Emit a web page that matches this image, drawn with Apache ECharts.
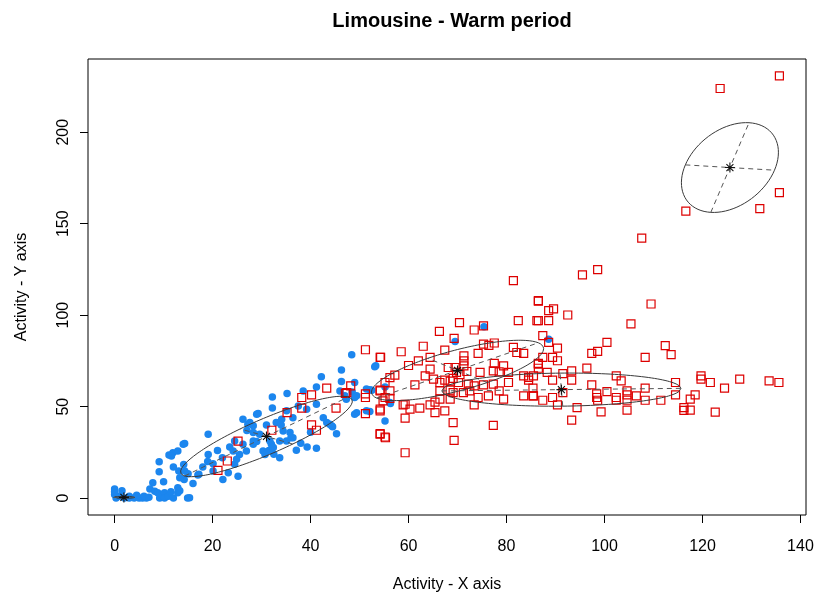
<!DOCTYPE html>
<html><head><meta charset="utf-8">
<script src="https://cdn.jsdelivr.net/npm/echarts@6/dist/echarts.min.js"></script>
<style>html,body{margin:0;padding:0;background:#fff}#c{width:819px;height:598px}</style>
</head><body><div id="c"></div>
<script>
const chartTitle = 'Limousine - Warm period';
const xName = 'Activity - X axis';
const yName = 'Activity - Y axis';
const xTicks = [0, 20, 40, 60, 80, 100, 120, 140];
const yTicks = [0, 50, 100, 150, 200];

const bluePoints = [
[0,5],[0,2],[0.3,0],[1,1],[0,3.5],[1.5,4],[2,0],[3,0],[4,0],[5,0],[5.7,0],[6.5,0],[7.2,5],[7.8,8.4],[8.2,3.8],[8.8,3],[9.2,0],[9.5,2],[10.2,2.9],[10.2,0],[11,1],[12,0],[12.9,5.6],[12.9,2.9],[13.3,4],[14.9,0],[15.3,0.2],[6,1],[7,0.5],[3,1],[4.5,1.5],[11.5,3.5],
[9.1,19.9],[9.1,14.4],[11.1,23.5],[11.9,24.8],[12.9,25.7],[14,29.4],[13.1,14.8],[14.1,18.4],[14.2,10.2],[15,13.3],[17.2,13],[19.1,34.9],[19.1,23.9],[20.1,18.8],[20.1,14.8],[22.1,10.2],[23.2,13.9],[25.2,12],[24.5,18.5],[25.5,23.9],[26.9,25.8],[26.2,29.4],[28.3,29.4],[28.3,35.8],[27.2,40.4],[26.2,43.1],[29,45.9],[24.2,25.8],[24.9,21.2],[28.3,31.2],[30.3,25.8],[32,29.4],[33.7,22.1],[32.5,24],[31.5,26],[35.1,31.2],[36,33],[34.4,36.7],[37.1,26.1],[39.3,27.9],[41.2,27.2],[42.6,43.9],[43.9,40.4],[45.3,35.2],[49.4,46.7],[51.4,47.7],[55.2,42.2],[36.4,43.9],[35.1,47.7],[29.3,46.2],[28.3,39.5],[32.2,49.2],[32.2,55.3],[35.2,57.2],[38.5,58.6],[41.2,60.8],[42.2,66.3],[46.3,70],[46.3,63.7],[48.4,78.4],[53.3,72.3],[49.4,55.9],[51.4,59.6],[52.5,59],[37.5,50.4],[39.2,48.6],[41.2,51.3],[34.1,43.1],[33,41.3],[27.6,41.3],[31,40],[34,40],[43.3,41.3],[44.5,39],[35.8,35.8],[36.4,33],[33.7,31.2],[31.7,31.2],[29.6,34.9],[29,31],[32.4,27.6],[30.7,23.9],[24.5,31.2],[23.5,28],[14.3,29.8],[11.6,23],[14.3,14.8],[13.3,11.1],[17,12.6],[19,20],[49,63.2],[46,58.6],[47,56],[48.5,58],[52.1,59.2],[55.2,60.8],[56.3,51.7],[52.1,47.3],[53.1,71.8],[69.5,85.6],[75.4,93.7],[88.6,86.9],[56.2,52.2],[49,55],[47.3,54.1],[49,45.9],[44.3,39.5],[40,36],[38,30],[27,37],[22,22],[21,26],[18,17],[16,8],[10,9],[12,17]
];

const redPoints = [
[21.1,15.2],[23,20.3],[25.2,31.2],[32.1,37.1],[35.2,46.7],[38.2,49.2],[38.2,55],[40.2,56.4],[43.3,60.1],[40.2,40],[41.2,37.1],[45.2,49.2],[47.1,57.2],[48.2,61.4],[51.2,81.1],[54.3,76.9],[51.2,55],[51.2,57],[51.2,46.2],[54.2,47.7],[54.2,59],[54.2,34.9],[55.3,33],
[70.4,95.9],[66.3,91.1],[73.4,91.9],[75.3,94.2],[82.4,97],[86.2,97],[69.3,87.3],[77.5,84.8],[76.4,83.5],[75.3,84.2],[67.4,80.9],[74.2,79.1],[81.4,82.4],[82.1,79.6],[83.5,79.1],[54.2,76.9],[64.4,76.9],[71.3,77.8],[71.3,75],[71.3,72.3],[77.5,73.6],[79.4,72.3],[86.5,73.2],[64.4,70.5],[68.1,71.4],[69.5,71.4],[69.8,68.7],[70.5,67.5],[71.9,69.2],[74.6,68.7],[77.3,69.6],[78.5,69],[80.4,68.7],[83.5,66.8],[85.5,66.8],[84.5,64.5],[57.2,67.2],[56.2,65.9],[63.4,66.8],[65.1,65],[66.4,63.2],[67.4,64.5],[68.5,64],[69.1,65.5],[70.2,63.2],[72.2,62.3],[73.4,61.3],[75.3,61.9],[77.3,62.3],[80.4,63.2],[61.3,61.9],[55.2,63.2],[54.2,58.6],[56.2,58.6],[55.2,55],[56.2,54.5],[54.2,48.6],[58.9,51],[60.3,48.6],[62.3,49.2],[64.4,51],[65.4,52.5],[66.4,54.1],[68.5,54.1],[65.4,46.7],[67.4,47.7],[59.3,43.7],[66.4,58.6],[68.5,59],[69.1,57.7],[71.2,57.7],[72.5,58.6],[74.2,55],[73.4,51],[76.3,55.9],[78.5,58.6],[79.4,54.1],[83.5,55.9],[85.5,55.9],[69.1,41.3],[77.3,39.8],[54.2,35.2],[55.2,33.4],[69.3,31.6],[59.3,24.8],[62,75],[60,72.5],[58.5,80],[63,83],[47.4,57.7],[54.8,53.2],[59.3,51.3],[94.4,49.5],
[86.5,107.6],[88.6,102.5],[89.6,103.4],[86.5,97],[88.6,97],[92.5,100.1],[109.5,106.1],[105.4,95.2],[87.4,88.8],[88.6,85.1],[90.4,82],[100.5,85.1],[97.4,79.1],[98.6,80.2],[112.4,83.3],[113.6,78.4],[108.3,76.9],[87.4,76.9],[89.4,76.9],[90.4,75.1],[86.5,73.6],[86.5,71],[96.4,71.1],[88.3,68.7],[91.5,68.1],[93.3,69.6],[93.3,64.5],[89.4,64.5],[84.5,66],[102.4,66.8],[103.4,64.1],[97.4,61.9],[100.5,58.2],[104.6,58.6],[108.3,60.1],[114.5,63.2],[119.7,66.8],[119.7,65],[121.6,63.2],[98.4,57],[98.4,55],[98.6,53.5],[102.4,55],[104.6,56.4],[106.5,55.9],[102.4,53.5],[104.6,53.5],[108.3,53.5],[111.5,53.5],[114.5,56.4],[117.5,54.1],[118.5,56.4],[116.2,49.5],[116.2,48],[117.5,48.1],[104.6,48.1],[99.3,47.1],[90.4,51],[87.4,53.5],[89.4,55],[85.4,55.9],[85.4,60.1],[91.5,57.7],[93.3,42.6],[127.6,65],[124.5,60.1],[133.6,64.1],[135.6,63.2],[122.6,47],
[107.6,142.1],[98.6,124.9],[95.5,122],[81.4,118.9],[86.5,107.9],
[135.7,230.8],[123.6,223.9],[135.7,167],[131.7,158.2],[116.6,156.9]
];

// ellipse: centre, first half-axis, second half-axis (data units)
const ellipseCenters = [[1.9,0.4],[31,33.7],[70,69.8],[91.2,59.3],[125.6,180.7]];
const ellipseAxisA = [[2.2,0],[16.7,21.6],[16.5,15.1],[24.4,0.7],[9.1,-1.45]];
const ellipseAxisB = [[0,0.5],[-5.36,4.14],[-6.06,6.62],[-0.27,9.03],[3.9,24.5]];

const FONT = 'Liberation Sans, Arial, sans-serif';
const series = [];
series.push({type:'scatter', data: bluePoints, symbol:'circle', symbolSize:7.5,
  itemStyle:{color:'#1C86EE', opacity:1}, z:2});
series.push({type:'scatter', data: redPoints, symbol:'rect', symbolSize:8,
  itemStyle:{color:'rgba(0,0,0,0)', borderColor:'#dd0000', borderWidth:1.2, opacity:1}, z:3});

ellipseCenters.forEach((c, i) => {
  const a = ellipseAxisA[i], b = ellipseAxisB[i];
  const outline = [];
  const N = 160;
  for (let k = 0; k <= N; k++) {
    const t = 2 * Math.PI * k / N;
    outline.push([c[0] + a[0]*Math.cos(t) + b[0]*Math.sin(t), c[1] + a[1]*Math.cos(t) + b[1]*Math.sin(t)]);
  }
  series.push({type:'line', data: outline, showSymbol:false, symbol:'none', smooth:false,
    lineStyle:{color:'#3a3a3a', width:1}, z:4, silent:true});
  [a, b].forEach(v => {
    series.push({type:'line', data:[[c[0]-v[0], c[1]-v[1]], [c[0]+v[0], c[1]+v[1]]], showSymbol:false, symbol:'none',
      lineStyle:{color:'#555', width:1, type:[5,4]}, z:4, silent:true});
  });
});
series.push({type:'scatter', data: ellipseCenters,
  symbol:'path://M5,0L5,10M0,5L10,5M1.5,1.5L8.5,8.5M1.5,8.5L8.5,1.5', symbolSize:10,
  itemStyle:{color:'rgba(0,0,0,0)', borderColor:'#111', borderWidth:1.1, opacity:1}, z:5});

const chart = echarts.init(document.getElementById('c'), null, {renderer:'canvas'});
chart.setOption({
  animation:false,
  backgroundColor:'#fff',
  title:{text: chartTitle, left:447, top:6, textAlign:'center',
    textStyle:{fontFamily:FONT, fontSize:20, fontWeight:'bold', color:'#000'}},
  grid:{left:88, right:13, top:59, bottom:83, show:true, borderColor:'#000', borderWidth:1, backgroundColor:'transparent'},
  xAxis:{type:'value', min:-5.43, max:141.13, splitLine:{show:false},
    axisLine:{show:false, onZero:false},
    axisTick:{show:true, inside:false, length:8, customValues:xTicks, lineStyle:{color:'#000'}},
    axisLabel:{customValues:xTicks, margin:24, fontSize:16, fontFamily:FONT, color:'#000'},
    name:xName, nameLocation:'middle', nameGap:62,
    nameTextStyle:{fontFamily:FONT, fontSize:16, color:'#000'}},
  yAxis:{type:'value', min:-9.23, max:240.03, splitLine:{show:false},
    axisLine:{show:false, onZero:false},
    axisTick:{show:true, inside:false, length:8, customValues:yTicks, lineStyle:{color:'#000'}},
    axisLabel:{customValues:yTicks, rotate:90, margin:16, fontSize:16, fontFamily:FONT, color:'#000'},
    name:yName, nameLocation:'middle', nameGap:58, nameRotate:90,
    nameTextStyle:{fontFamily:FONT, fontSize:16, color:'#000'}},
  series: series
});
</script></body></html>
